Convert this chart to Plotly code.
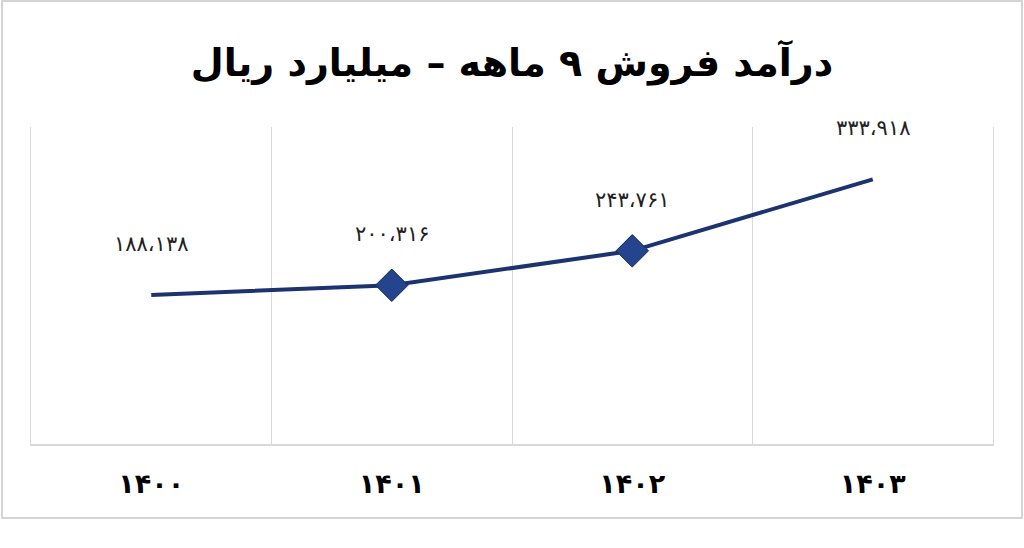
import plotly.graph_objects as go

# revenue, 9 months, billion rials
years = ["1400", "1401", "1402", "1403"]
revenue = [188138, 200316, 243761, 333918]
marker_on = [0, 1, 1, 0]

title_text = "درآمد فروش ۹ ماهه – میلیارد ریال"


def to_persian(s):
    digits = "۰۱۲۳۴۵۶۷۸۹"
    return "".join(digits[int(c)] if c.isdigit() else c for c in s)


def fmt_value(v):
    return to_persian(f"{v:,}".replace(",", "،"))


line_color = "#1c3370"
grid_color = "#d9d9d9"

fig = go.Figure()

fig.add_trace(go.Scatter(
    x=years,
    y=revenue,
    mode="lines+markers",
    line=dict(color=line_color, width=4),
    marker=dict(symbol="diamond", size=25, color="#24448e",
                opacity=marker_on,
                line=dict(color="#14265a", width=1)),
    hoverinfo="skip",
    showlegend=False,
))

# data labels above each point (category index as x)
for i, v in enumerate(revenue):
    fig.add_annotation(
        x=i, y=v, text=fmt_value(v), showarrow=False,
        yshift=51, font=dict(family="DejaVu Sans", size=21, color="#222222"),
    )

# outer frame
fig.add_shape(type="rect", xref="paper", yref="paper",
              x0=-0.0301, x1=1.0301, y0=-0.2334, y1=1.3975,
              line=dict(color="#d4d4d4", width=2), layer="below")

fig.update_layout(
    width=1024,
    height=548,
    margin=dict(l=31, r=31, t=127, b=104),
    paper_bgcolor="white",
    plot_bgcolor="white",
    title=dict(text="<b>" + title_text + "</b>", x=0.5, xanchor="center",
               y=0.885, yanchor="middle",
               font=dict(family="DejaVu Sans", size=38, color="black")),
    xaxis=dict(
        type="category",
        tickvals=years,
        ticktext=["<b>" + to_persian(y) + "</b>" for y in years],
        tickson="boundaries",
        showgrid=True,
        gridcolor=grid_color,
        gridwidth=1,
        showline=True,
        linecolor=grid_color,
        linewidth=2,
        ticks="",
        ticklabelstandoff=15,
        tickfont=dict(family="DejaVu Sans", size=27, color="black"),
        range=[-0.5, 3.5],
    ),
    yaxis=dict(
        range=[0, 400000],
        showgrid=False,
        zeroline=False,
        showticklabels=False,
        showline=True,
        mirror=True,
        linecolor=grid_color,
        linewidth=1,
    ),
)

fig.write_html("out.html", config={"displayModeBar": False},
               post_script="document.body.style.margin='0';")
